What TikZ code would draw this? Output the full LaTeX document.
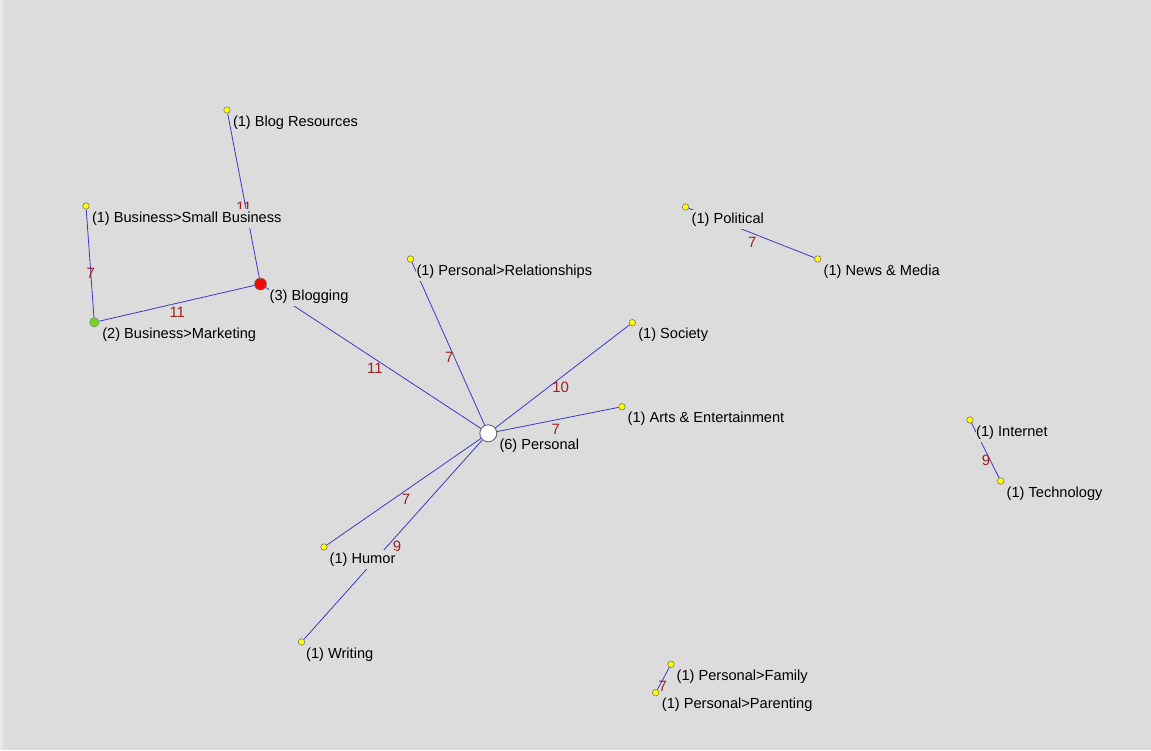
\documentclass[tikz,border=0pt]{standalone}
\usepackage{fontspec}
\setmainfont{Liberation Sans}
\definecolor{canvas}{RGB}{220,220,220}
\definecolor{rim}{RGB}{232,232,232}
\definecolor{linkblue}{RGB}{58,58,200}
\definecolor{weightred}{RGB}{160,32,32}
\definecolor{dotyellow}{RGB}{255,255,0}
\definecolor{hubred}{RGB}{240,10,10}
\definecolor{hubgreen}{RGB}{110,215,30}
\pgfdeclarelayer{links}
\pgfsetlayers{links,main}
\begin{document}
\begin{tikzpicture}[x=1pt,y=-1pt,
  link/.style={draw=linkblue,line width=0.8pt},
  weight/.style={text=weightred,font=\fontsize{15}{15}\selectfont,inner sep=0pt},
  topic/.style={anchor=base west,fill=canvas,inner xsep=0.5pt,inner ysep=2.6pt,
                font=\fontsize{14.6}{14.6}\selectfont,text=black},
  leaf/.style={circle,draw=black!60,fill=dotyellow,line width=0.5pt,inner sep=0pt,minimum size=6.5pt},
  hubA/.style={circle,draw=black!55,fill=hubred,line width=0.6pt,inner sep=0pt,minimum size=12pt},
  hubB/.style={circle,draw=black!45,fill=hubgreen,line width=0.6pt,inner sep=0pt,minimum size=9.5pt},
  hubC/.style={circle,draw=black!60,fill=white,line width=0.9pt,inner sep=0pt,minimum size=17pt}]

% canvas
\begin{pgfonlayer}{links}
\useasboundingbox (0,0) rectangle (1151,750);
\fill[canvas] (0,0) rectangle (1151,750);
\fill[rim] (0,0) rectangle (3,750);
\end{pgfonlayer}

% vertices
\node[leaf] (blogres)  at (227,110) {};
\node[leaf] (smallbiz) at (86,206) {};
\node[hubA] (blogging) at (260.5,284) {};
\node[hubB] (market)   at (94.3,322.3) {};
\node[leaf] (relat)    at (410.5,259) {};
\node[hubC] (personal) at (488.3,433.3) {};
\node[leaf] (society)  at (632.3,322.7) {};
\node[leaf] (arts)     at (622,406.7) {};
\node[leaf] (humor)    at (324,547) {};
\node[leaf] (writing)  at (301.5,642) {};
\node[leaf] (polit)    at (685.5,207) {};
\node[leaf] (news)     at (817.7,259) {};
\node[leaf] (inet)     at (970,420) {};
\node[leaf] (tech)     at (1000.7,481) {};
\node[leaf] (family)   at (671,664.3) {};
\node[leaf] (parent)   at (655.7,692.7) {};

% links, kept underneath the vertices
\begin{pgfonlayer}{links}
\draw[link] (blogres) -- (blogging);
\draw[link] (smallbiz) -- (market);
\draw[link] (market) -- (blogging);
\draw[link] (blogging) -- (personal);
\draw[link] (relat) -- (personal);
\draw[link] (society) -- (personal);
\draw[link] (arts) -- (personal);
\draw[link] (humor) -- (personal);
\draw[link] (writing) -- (personal);
\draw[link] (polit) -- (news);
\draw[link] (inet) -- (tech);
\draw[link] (family) -- (parent);
\end{pgfonlayer}

% link weights
\node[weight] (w1)  at (244,207.5) {11};
\node[weight] (w2)  at (90.7,273.3) {7};
\node[weight] (w3)  at (177.3,312.7) {11};
\node[weight] (w4)  at (375,368.3) {11};
\node[weight] (w5)  at (449.3,357) {7};
\node[weight] (w6)  at (560.7,387.3) {10};
\node[weight] (w7)  at (555.7,429.3) {7};
\node[weight] (w8)  at (406,499.3) {7};
\node[weight] (w9)  at (397,546.7) {9};
\node[weight] (w10) at (752.3,242.3) {7};
\node[weight] (w11) at (986,460) {9};
\node[weight] (w12) at (662.7,686) {7};

% topic names
\node[topic] (blogres-t)  at ([shift={(5.3,16)}]blogres)  {(1) Blog Resources};
\node[topic] (smallbiz-t) at ([shift={(5.3,16)}]smallbiz) {(1) Business>Small Business};
\node[topic] (blogging-t) at ([shift={(8.5,16)}]blogging) {(3) Blogging};
\node[topic] (market-t)   at ([shift={(7.3,16)}]market)   {(2) Business>Marketing};
\node[topic] (relat-t)    at ([shift={(5.3,16)}]relat)    {(1) Personal>Relationships};
\node[topic] (personal-t) at ([shift={(10.5,16.5)}]personal) {(6) Personal};
\node[topic] (society-t)  at ([shift={(5.3,16)}]society)  {(1) Society};
\node[topic] (arts-t)     at ([shift={(5,16)}]arts)       {(1) Arts \& Entertainment};
\node[topic] (humor-t)    at ([shift={(5,16)}]humor)      {(1) Humor};
\node[topic] (writing-t)  at ([shift={(4,16)}]writing)    {(1) Writing};
\node[topic] (polit-t)    at ([shift={(5.5,16)}]polit)    {(1) Political};
\node[topic] (news-t)     at ([shift={(5.3,16)}]news)     {(1) News \& Media};
\node[topic] (inet-t)     at ([shift={(5.5,16)}]inet)     {(1) Internet};
\node[topic] (tech-t)     at ([shift={(5.3,16)}]tech)     {(1) Technology};
\node[topic] (family-t)   at ([shift={(5,16)}]family)     {(1) Personal>Family};
\node[topic] (parent-t)   at ([shift={(5.5,16)}]parent)   {(1) Personal>Parenting};
\end{tikzpicture}
\end{document}
